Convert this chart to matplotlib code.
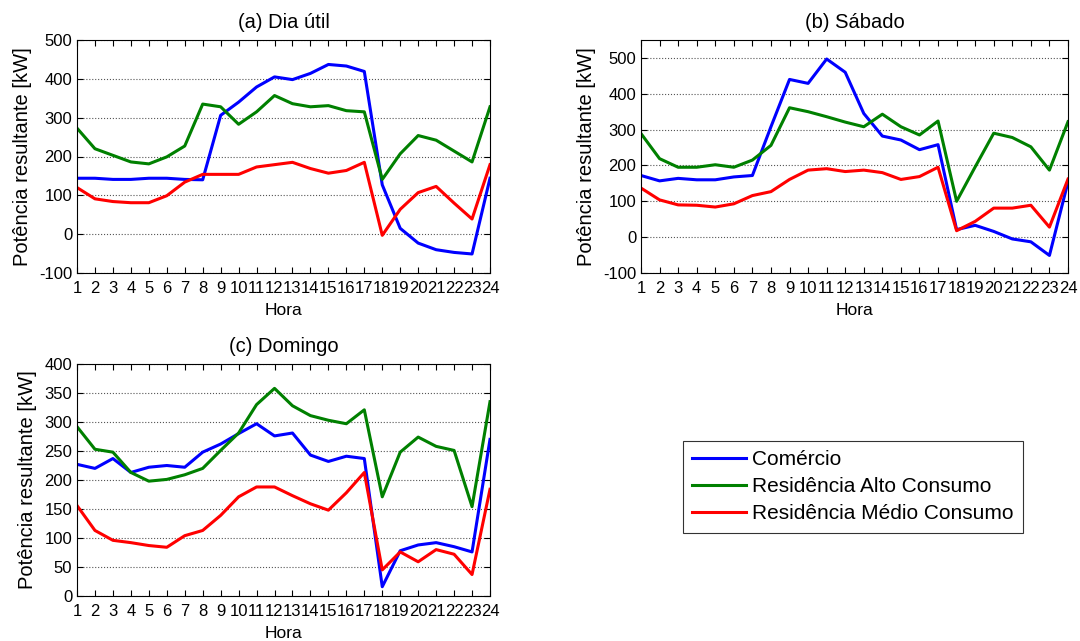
import matplotlib
matplotlib.use("Agg")
import matplotlib.pyplot as plt

plt.rcParams['font.family'] = ['Liberation Sans', 'DejaVu Sans']
plt.rcParams['axes.unicode_minus'] = False

horas = list(range(1, 25))
series_names = ["Comércio", "Residência Alto Consumo", "Residência Médio Consumo"]
colors = ["#0000ff", "#008000", "#ff0000"]

# (a) Dia útil
a_com = [144, 144, 141, 141, 144, 144, 141, 140, 306, 340, 379, 405, 398, 414, 437, 433, 419, 127, 15, -23, -40, -47, -51, 144]
a_alto = [273, 220, 203, 186, 181, 199, 227, 335, 328, 283, 315, 357, 336, 328, 331, 318, 315, 141, 207, 254, 242, 214, 186, 328]
a_medio = [120, 91, 84, 81, 81, 99, 134, 154, 154, 154, 173, 179, 185, 169, 157, 164, 185, -3, 64, 107, 123, 80, 39, 179]

# (b) Sábado
b_com = [172, 157, 164, 160, 160, 168, 172, 308, 440, 429, 497, 460, 345, 282, 271, 244, 258, 21, 33, 16, -5, -13, -51, 154]
b_alto = [289, 219, 195, 195, 202, 195, 215, 256, 361, 350, 336, 321, 308, 343, 308, 285, 324, 100, 196, 290, 278, 252, 187, 322]
b_medio = [137, 104, 90, 89, 84, 93, 116, 127, 161, 187, 191, 183, 187, 180, 161, 169, 195, 18, 44, 81, 81, 89, 28, 162]

# (c) Domingo
c_com = [227, 220, 237, 213, 222, 225, 222, 248, 262, 280, 297, 276, 281, 243, 232, 241, 237, 16, 78, 88, 92, 85, 76, 270]
c_alto = [292, 253, 248, 213, 198, 201, 209, 220, 251, 281, 330, 358, 328, 311, 303, 297, 321, 171, 248, 274, 258, 251, 154, 335]
c_medio = [156, 113, 96, 92, 87, 84, 104, 113, 139, 171, 188, 188, 173, 159, 148, 178, 213, 45, 76, 59, 80, 72, 37, 184]

titles = ["(a) Dia útil", "(b) Sábado", "(c) Domingo"]
ylims = [(-100, 500), (-100, 550), (0, 400)]
yticks = [list(range(-100, 501, 100)), list(range(-100, 501, 100)), list(range(0, 401, 50))]

W, H = 1080, 641
fig = plt.figure(figsize=(W / 100, H / 100), dpi=100)

def rect(l, t, r, b):
    return [l / W, 1 - b / H, (r - l) / W, (b - t) / H]

rects = [rect(77, 40, 490, 273), rect(641, 40, 1068, 273), rect(77, 364, 490, 596)]
data = [(a_com, a_alto, a_medio), (b_com, b_alto, b_medio), (c_com, c_alto, c_medio)]

lines = None
for i in range(3):
    ax = fig.add_axes(rects[i])
    ls = []
    for s, c, n in zip(data[i], colors, series_names):
        l, = ax.plot(horas, s, color=c, lw=2.2, label=n)
        ls.append(l)
    lines = ls
    ax.set_xlim(1, 24)
    ax.set_ylim(*ylims[i])
    ax.set_xticks(horas)
    ax.set_yticks(yticks[i])
    ax.tick_params(direction='in', top=True, right=True, labelsize=12, length=4, width=0.8)
    ax.tick_params(axis='x', pad=6)
    ax.tick_params(axis='y', pad=3.5)
    ax.yaxis.grid(True, linestyle=':', color='#555555', linewidth=0.8)
    ax.set_axisbelow(True)
    ax.set_title(titles[i], fontsize=14.5, pad=9)
    ax.set_xlabel("Hora", fontsize=12.5, labelpad=5)
    ax.set_ylabel("Potência resultante [kW]", fontsize=14.5, labelpad=5)
    for sp in ax.spines.values():
        sp.set_linewidth(0.8)

leg = fig.legend(lines, series_names, loc='upper left',
                 bbox_to_anchor=(683 / W, 1 - 441 / H), fontsize=15,
                 frameon=True, fancybox=False, edgecolor='black',
                 handlelength=2.55, borderpad=0.45, labelspacing=0.38,
                 handletextpad=0.3, borderaxespad=0)
leg.get_frame().set_linewidth(0.8)

fig.savefig("out.png", dpi=100)
